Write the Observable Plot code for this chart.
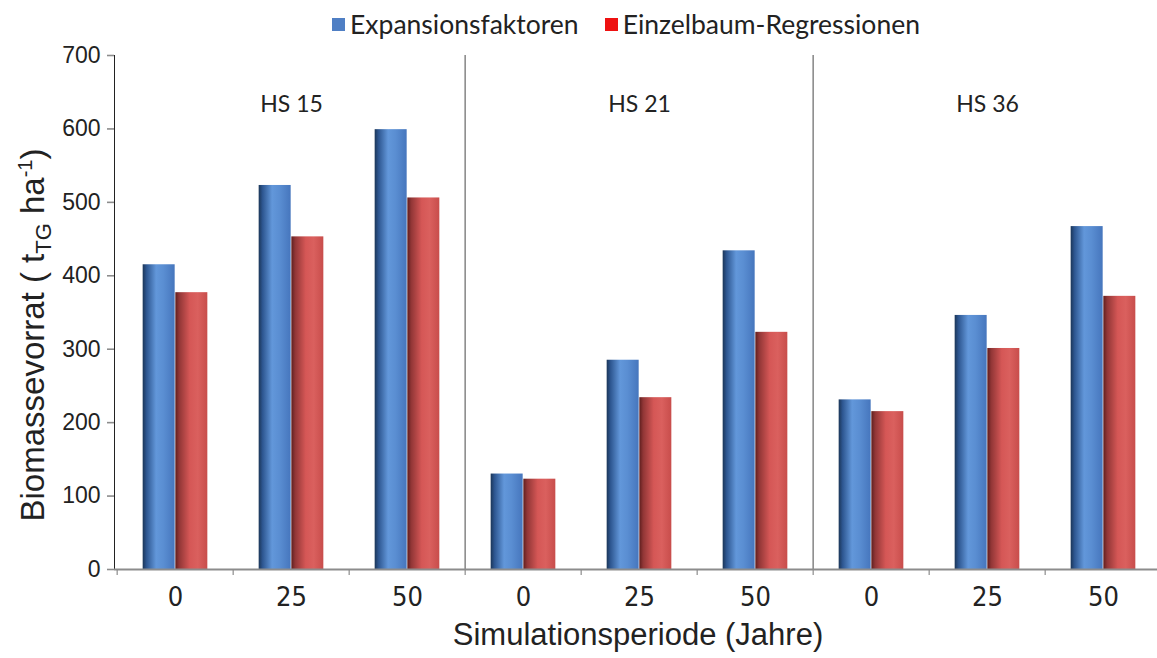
<!DOCTYPE html>
<html>
<head>
<meta charset="utf-8">
<script src="https://cdn.jsdelivr.net/npm/d3@7"></script>
<script src="https://cdn.jsdelivr.net/npm/@observablehq/plot@0.6"></script>
<style>
  html, body { margin: 0; padding: 0; background: #fff; }
  body { width: 1157px; height: 658px; overflow: hidden; position: relative; }
  #legend { height: 40px; display: flex; align-items: center; justify-content: center;
    font-family: Lato, "Open Sans", sans-serif; font-size: 26.5px; color: #222;
    padding-left: 95px; padding-top: 8px; box-sizing: border-box; }
  .sw { display: inline-block; width: 13px; height: 13px; margin-right: 5px; }
  .item { display: flex; align-items: center; margin: 0 13px; }
  #chart svg { overflow: hidden; display: block; }
</style>
</head>
<body>
<svg width="0" height="0" style="position:absolute">
  <defs>
    <linearGradient id="gBlue" x1="0" x2="1" y1="0" y2="0">
      <stop offset="0" stop-color="#1b3658"/>
      <stop offset="0.12" stop-color="#2d5690"/>
      <stop offset="0.42" stop-color="#6297da"/>
      <stop offset="0.65" stop-color="#5a8ed2"/>
      <stop offset="1" stop-color="#4676bd"/>
    </linearGradient>
    <linearGradient id="gRed" x1="0" x2="1" y1="0" y2="0">
      <stop offset="0" stop-color="#5e1e1e"/>
      <stop offset="0.12" stop-color="#913636"/>
      <stop offset="0.45" stop-color="#d55756"/>
      <stop offset="0.7" stop-color="#da605e"/>
      <stop offset="1" stop-color="#c84d4b"/>
    </linearGradient>
  </defs>
</svg>
<div id="legend">
  <span class="item"><span class="sw" style="background:#4f7fc4"></span>Expansionsfaktoren</span>
  <span class="item"><span class="sw" style="background:#ee1111"></span>Einzelbaum-Regressionen</span>
</div>
<div id="chart"></div>
<script>
// ---- data ----
const groups = ["HS 15", "HS 21", "HS 36"];
const periods = ["0", "25", "50"];
const seriesNames = ["Expansionsfaktoren", "Einzelbaum-Regressionen"];
const expansionsfaktoren = [415, 523, 599, 130, 285, 434, 231, 346, 467];
const einzelbaum = [377, 453, 506, 123, 234, 323, 215, 301, 372];
const yTicks = [0, 100, 200, 300, 400, 500, 600, 700];
const xTitle = "Simulationsperiode (Jahre)";

// ---- table ----
const cats = groups.flatMap(g => periods.map(p => `${g}|${p}`));
const rows = cats.map((c, i) => ({cat: c, group: c.split("|")[0], period: c.split("|")[1],
  exp: expansionsfaktoren[i], ein: einzelbaum[i]}));
const groupLabels = groups.map(g => ({cat: `${g}|${periods[1]}`, label: g}));
const groupStarts = groups.slice(1).map(g => `${g}|${periods[0]}`);

const W = 1157, H = 618;
const x0 = 114, x1 = 1164;
const bw = (x1 - x0) / cats.length;
const barW = bw * 0.28;
const outer = (bw - 2 * barW) / 2;
const axisGray = "#8c8c8c";

const plot = Plot.plot({
  width: W,
  height: H,
  marginTop: 15,
  marginBottom: 89,
  marginLeft: x0,
  marginRight: 0,
  style: {fontFamily: "'Liberation Sans', Arial, sans-serif", color: "#222", background: "#fff", overflow: "hidden"},
  x: {domain: cats, range: [x0, x1], padding: 0, tickSize: 0, tickPadding: 17,
      tickFormat: d => d.split("|")[1], label: null},
  y: {domain: [0, 700], ticks: yTicks, tickSize: 7, tickPadding: 7, label: null, line: true},
  marks: [
    Plot.ruleX(groupStarts, {x: d => d, dx: -bw / 2, stroke: axisGray, strokeWidth: 1.6}),
    Plot.barY(rows, {x: "cat", y: "exp", fill: "url(#gBlue)", insetLeft: outer, insetRight: outer + barW}),
    Plot.barY(rows, {x: "cat", y: "ein", fill: "url(#gRed)", insetLeft: outer + barW, insetRight: outer}),
    Plot.ruleX(cats, {x: d => d, dx: -bw / 2, y1: 0, y2: 0, insetBottom: -6, stroke: axisGray, strokeWidth: 1.2}),
    Plot.ruleY([0], {stroke: axisGray, strokeWidth: 2}),
    Plot.text(groupLabels, {x: "cat", text: "label", frameAnchor: "top", dy: 40,
      fontSize: 23, fontFamily: "Lato, 'Open Sans', sans-serif", fill: "#222"})
  ]
});
document.getElementById("chart").appendChild(plot);

const svg = d3.select(plot);
svg.selectAll("[aria-label^='y-axis'] line, [aria-label^='y-axis'] path").attr("stroke", axisGray).style("stroke", axisGray).attr("stroke-width", 1.6);
svg.selectAll("[aria-label^='y-axis'] text").style("font-size", "23px");
svg.selectAll("[aria-label^='x-axis'] text").style("font-size", "27px")
  .style("font-family", "'Liberation Sans Narrow', 'DejaVu Sans Condensed', sans-serif");

// y title with subscript / superscript
const yt = svg.append("text")
  .attr("transform", `translate(44,${295}) rotate(-90)`)
  .attr("text-anchor", "middle")
  .style("font-family", "'Liberation Sans', Arial, sans-serif")
  .style("font-size", "33px")
  .attr("fill", "#222");
yt.append("tspan").text("Biomassevorrat ( t");
yt.append("tspan").attr("dy", 7).style("font-size", "22px").text("TG");
yt.append("tspan").attr("dy", -7).text(" ha");
yt.append("tspan").attr("dy", -12).style("font-size", "20px").text("-1");
yt.append("tspan").attr("dy", 12).text(")");

// x title
svg.append("text")
  .attr("x", 638).attr("y", 605)
  .attr("text-anchor", "middle")
  .style("font-family", "'Liberation Sans', Arial, sans-serif")
  .style("font-size", "31px")
  .attr("fill", "#222")
  .text(xTitle);
</script>
</body>
</html>
